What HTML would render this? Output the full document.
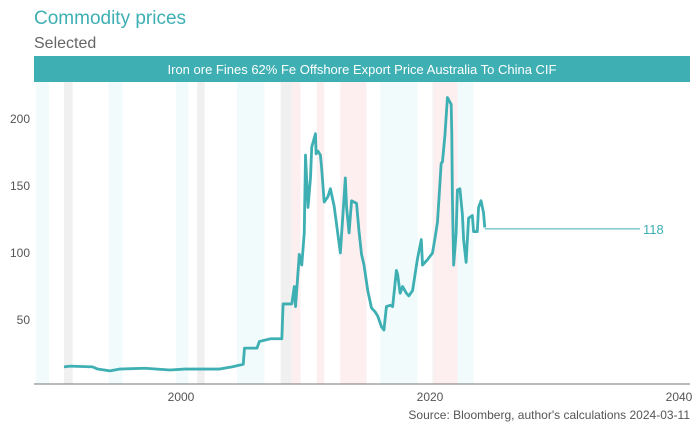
<!DOCTYPE html>
<html><head><meta charset="utf-8"><style>
body{margin:0;background:#fff;font-family:"Liberation Sans",sans-serif;}
svg text{font-family:"Liberation Sans",sans-serif;}
</style></head><body>
<svg width="700" height="432">
<text x="34" y="24" font-size="19" fill="#3eafb3">Commodity prices</text>
<text x="34" y="48" font-size="16" fill="#666">Selected</text>
<g id="bands"></g>
<rect x="34" y="56" width="656" height="26" fill="#3eafb3"/>
<text x="362" y="74" font-size="13" fill="#fff" text-anchor="middle">Iron ore Fines 62% Fe Offshore Export Price Australia To China CIF</text>
<line x1="34" x2="690" y1="384" y2="384" stroke="#777" stroke-width="1"/>
<g id="ticks"></g>
<g id="series"></g>
<text x="690" y="419" font-size="12" fill="#555" text-anchor="end">Source: Bloomberg, author's calculations 2024-03-11</text>
</svg>
<script>
const bandStart=[1988.35,1990.6,1994.2,1999.6,2001.3,2004.5,2008.0,2008.9,2010.9,2012.8,2016.0,2020.2,2020.3,2022.2];
const bandEnd=[1989.4,1991.3,1995.3,2000.6,2001.9,2006.7,2008.9,2009.6,2011.5,2014.9,2019.0,2020.3,2022.2,2023.5];
const bandType=["c","g","c","c","g","c","g","p","p","p","c","g","p","c"];
const years=[1990.6,1991.1,1992.9,1993.3,1994.3,1995.1,1997.1,1999.1,2000.3,2003.1,2004.1,2005.0,2005.1,2006.1,2006.3,2007.2,2008.1,2008.2,2008.9,2009.1,2009.2,2009.5,2009.7,2009.9,2010.0,2010.2,2010.4,2010.5,2010.8,2010.85,2011.0,2011.2,2011.3,2011.5,2011.8,2012.0,2012.3,2012.8,2013.2,2013.3,2013.5,2013.7,2014.1,2014.3,2014.5,2014.7,2015.0,2015.3,2015.6,2015.8,2016.1,2016.3,2016.5,2016.8,2017.0,2017.3,2017.4,2017.6,2017.8,2018.1,2018.3,2018.6,2018.7,2019.0,2019.3,2019.4,2019.6,2019.8,2020.2,2020.4,2020.6,2020.9,2021.0,2021.2,2021.4,2021.7,2021.75,2021.8,2021.9,2022.1,2022.2,2022.4,2022.6,2022.7,2022.9,2023.1,2023.4,2023.5,2023.8,2023.9,2024.1,2024.3,2024.4];
const values=[15,15.6,15,13.4,12,13.4,14,12.7,13.4,13.4,15,17,29,29,34,36,36,62,62,75,60,99,91,115,173,134,156,179,189,174,176,173,163,138,142,148,135,100,156,134,115,139,137,116,99,91,72,59,56,53,45,42.5,60,61,60,87,84,70,75,70,68,72,78,96,110,91,93,95,100,111,123,167,168,188,216,211,189,140,91,115,147,148,129,110,93,126,128,116,116,134,139,130,119];
const yTicks=[50,100,150,200];
const xTicks=[2000,2020,2040];
const lastValue=118;
const xs=y=>181+(y-2000)*12.45;
const ys=v=>387-v*1.34;
const NS="http://www.w3.org/2000/svg";
const col={c:"#f1fbfb",g:"#f0f0f0",p:"#fdeef0"};
const bg=document.getElementById("bands");
for(let i=0;i<bandStart.length;i++){
 const r=document.createElementNS(NS,"rect");
 r.setAttribute("x",xs(bandStart[i]));r.setAttribute("y",82);
 r.setAttribute("width",xs(bandEnd[i])-xs(bandStart[i]));r.setAttribute("height",302);
 r.setAttribute("fill",col[bandType[i]]);
 
 
 bg.appendChild(r);
}
const tg=document.getElementById("ticks");
yTicks.forEach(t=>{
 const e=document.createElementNS(NS,"text");
 e.setAttribute("x",30);e.setAttribute("y",ys(t)+4);e.setAttribute("text-anchor","end");
 e.setAttribute("font-size","12");e.setAttribute("fill","#555");e.textContent=t;
 
 
 tg.appendChild(e);
});
xTicks.forEach(t=>{
 const e=document.createElementNS(NS,"text");
 e.setAttribute("x",xs(t));e.setAttribute("y",401);e.setAttribute("text-anchor","middle");
 e.setAttribute("font-size","12");e.setAttribute("fill","#555");e.textContent=t;
 
 
 tg.appendChild(e);
});
const sg=document.getElementById("series");
const p=document.createElementNS(NS,"polyline");
p.setAttribute("points",years.map((y,i)=>xs(y)+","+ys(values[i])).join(" "));
p.setAttribute("fill","none");p.setAttribute("stroke","#3eafb3");p.setAttribute("stroke-width","2.8");p.setAttribute("stroke-linejoin","round");


sg.appendChild(p);
const lx=xs(years[years.length-1]);
const l=document.createElementNS(NS,"line");
l.setAttribute("x1",lx);l.setAttribute("x2",640);l.setAttribute("y1",ys(lastValue));l.setAttribute("y2",ys(lastValue));
l.setAttribute("stroke","#3eafb3");l.setAttribute("stroke-width","1");


sg.appendChild(l);
const lt=document.createElementNS(NS,"text");
lt.setAttribute("x",643);lt.setAttribute("y",ys(lastValue)+5);lt.setAttribute("font-size","13");lt.setAttribute("fill","#3eafb3");
lt.textContent=lastValue;


sg.appendChild(lt);
</script>
</body></html>
